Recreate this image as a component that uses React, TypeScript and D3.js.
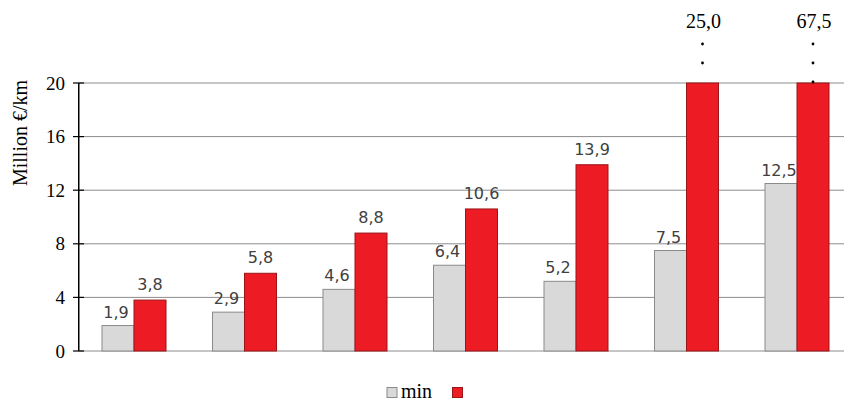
import React from "react";
import * as d3 from "d3";

const categories = ["1", "2", "3", "4", "5", "6", "7"];
const minValues = [1.9, 2.9, 4.6, 6.4, 5.2, 7.5, 12.5];
const maxValues = [3.8, 5.8, 8.8, 10.6, 13.9, 25.0, 67.5];
const yTicks = [0, 4, 8, 12, 16, 20];
const seriesNames = ["min", ""];

const W = 844;
const H = 403;

const fmt = (v: number) => v.toFixed(1).replace(".", ",");

export default function App() {
  const x = d3
    .scaleBand<string>()
    .domain(categories)
    .range([78.75, 852.25])
    .paddingInner(0.4208)
    .paddingOuter(0.2104);
  const x1 = d3.scaleBand<string>().domain(["min", "max"]).range([0, x.bandwidth()]);
  const y = d3.scaleLinear().domain([0, 20]).range([351, 83]).clamp(true);
  const yMax = 20;
  const serif = "'Liberation Serif', 'Times New Roman', serif";
  const sans = "'DejaVu Sans', sans-serif";
  const gap = 8;

  return (
    <svg
      width={W}
      height={H}
      style={{ position: "absolute", left: 0, top: 0, background: "#fff" }}
    >
      {/* gridlines */}
      {yTicks.map((t) => (
        <line key={"g" + t} x1={78.75} x2={W} y1={y(t)} y2={y(t)} stroke="#8c8c8c" strokeWidth={1} />
      ))}
      {/* bars */}
      {categories.map((c, i) => {
        const gx = x(c)!;
        const vmin = minValues[i];
        const vmax = maxValues[i];
        const bw = x1.bandwidth();
        const minX = gx + x1("min")!;
        const maxX = gx + x1("max")!;
        return (
          <g key={c}>
            <rect x={minX} y={y(vmin)} width={bw} height={y(0) - y(vmin)} fill="#d9d9d9" stroke="#8a8a8a" strokeWidth={1} />
            <rect x={maxX} y={y(vmax)} width={bw} height={y(0) - y(vmax)} fill="#ed1c24" stroke="#9a1518" strokeWidth={1} />
            <text x={minX + bw / 2 - 2} y={y(vmin) - gap} textAnchor="middle" fontFamily={sans} fontSize={16} fill="#404040">
              {fmt(vmin)}
            </text>
            {vmax <= yMax ? (
              <text x={maxX + bw / 2} y={y(vmax) - gap - 2} textAnchor="middle" fontFamily={sans} fontSize={16} fill="#404040">
                {fmt(vmax)}
              </text>
            ) : (
              <g>
                <text x={maxX + bw / 2 + 1} y={28} textAnchor="middle" fontFamily={serif} fontSize={20} fill="#000">
                  {fmt(vmax)}
                </text>
                {(vmax > 50 ? [44, 63, 82] : [44, 63]).map((dy) => (
                  <circle key={dy} cx={maxX + bw / 2} cy={dy} r={1.4} fill="#000" />
                ))}
              </g>
            )}
          </g>
        );
      })}
      {/* y axis */}
      <line x1={78.75} x2={78.75} y1={y(20)} y2={y(0)} stroke="#000" strokeWidth={1.5} />
      {yTicks.map((t) => (
        <g key={"t" + t}>
          <line x1={73} x2={84} y1={y(t)} y2={y(t)} stroke="#000" strokeWidth={1.2} />
          <text x={65} y={y(t)} dy="0.35em" textAnchor="end" fontFamily={serif} fontSize={19} fill="#000">
            {t}
          </text>
        </g>
      ))}
      <text
        transform={`translate(27,133) rotate(-90)`}
        textAnchor="middle"
        fontFamily={serif}
        fontSize={20}
        fill="#000"
      >
        Million €/km
      </text>
      {/* legend */}
      <rect x={387} y={387.5} width={10} height={10} fill="#d9d9d9" stroke="#8a8a8a" strokeWidth={1} />
      <text x={401} y={398} fontFamily={serif} fontSize={20} fill="#000">
        {seriesNames[0]}
      </text>
      <rect x={452.5} y={387.5} width={10} height={10} fill="#ed1c24" stroke="#9a1518" strokeWidth={1} />
      <text x={466} y={398} fontFamily={serif} fontSize={20} fill="#000">
        {seriesNames[1]}
      </text>
    </svg>
  );
}
